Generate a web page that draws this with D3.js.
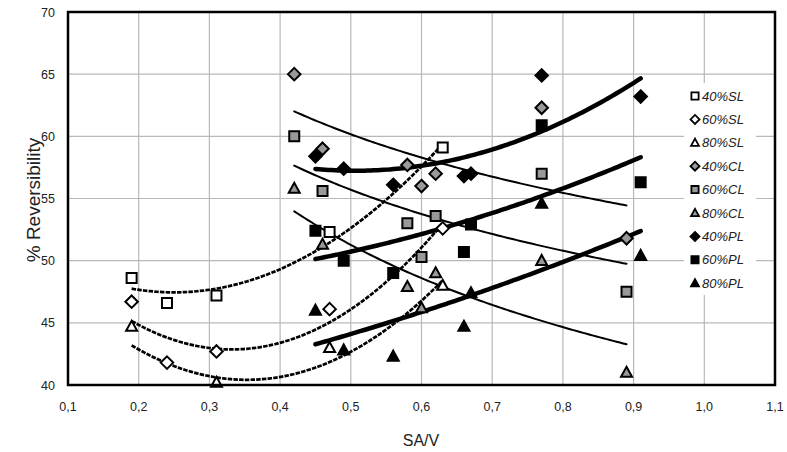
<!DOCTYPE html>
<html><head><meta charset="utf-8">
<script src="https://cdn.jsdelivr.net/npm/d3@7"></script>
<style>body{margin:0;background:#fff}svg{display:block}text{font-family:Arial,"Liberation Sans",sans-serif}</style>
</head><body>
<svg id="c" width="787" height="452"></svg>
<script>
// ---- data ----
const seriesNames = ["40%SL","60%SL","80%SL","40%CL","60%CL","80%CL","40%PL","60%PL","80%PL"];
const x40SL = [0.19,0.24,0.31,0.47,0.63];
const y40SL = [48.6,46.6,47.2,52.3,59.1];
const x60SL = [0.19,0.24,0.31,0.47,0.63];
const y60SL = [46.7,41.8,42.7,46.1,52.6];
const x80SL = [0.19,0.24,0.31,0.47,0.63];
const y80SL = [44.7,39.9,40.2,43.0,48.0];   // 0.24 point lies just below the axis minimum (not shown)
const xCL = [0.42,0.46,0.58,0.60,0.62,0.77,0.89];
const y40CL = [65.0,59.0,57.7,56.0,57.0,62.3,51.8];
const y60CL = [60.0,55.6,53.0,50.3,53.6,57.0,47.5];
const y80CL = [55.8,51.3,47.9,46.2,49.0,50.0,41.0];
const xPL = [0.45,0.49,0.56,0.66,0.67,0.77,0.91];
const y40PL = [58.4,57.4,56.1,56.8,57.0,64.9,63.2];
const y60PL = [52.4,50.0,49.0,50.7,52.9,60.9,56.3];
const y80PL = [46.0,42.8,42.3,44.7,47.4,54.6,50.4];
const xTicks = [0.1,0.2,0.3,0.4,0.5,0.6,0.7,0.8,0.9,1.0,1.1];
const yTicks = [40,45,50,55,60,65,70];

const series = [
  {name:"40%SL", xs:x40SL, ys:y40SL, shape:"square", fill:"#fff", trend:"poly2", tstyle:"dash"},
  {name:"60%SL", xs:x60SL, ys:y60SL, shape:"diamond", fill:"#fff", trend:"poly2", tstyle:"dash"},
  {name:"80%SL", xs:x80SL, ys:y80SL, shape:"triangle", fill:"#fff", trend:"poly2", tstyle:"dash"},
  {name:"40%CL", xs:xCL, ys:y40CL, shape:"diamond", fill:"#999", trend:"power", tstyle:"thin"},
  {name:"60%CL", xs:xCL, ys:y60CL, shape:"square", fill:"#999", trend:"power", tstyle:"thin"},
  {name:"80%CL", xs:xCL, ys:y80CL, shape:"triangle", fill:"#999", trend:"power", tstyle:"thin"},
  {name:"40%PL", xs:xPL, ys:y40PL, shape:"diamond", fill:"#000", trend:"poly2", tstyle:"thick"},
  {name:"60%PL", xs:xPL, ys:y60PL, shape:"square", fill:"#000", trend:"poly2", tstyle:"thick"},
  {name:"80%PL", xs:xPL, ys:y80PL, shape:"triangle", fill:"#000", trend:"poly2", tstyle:"thick"}
];

// ---- fits ----
function linfit(X,Y){const n=X.length,mx=d3.mean(X),my=d3.mean(Y);let sxy=0,sxx=0;for(let i=0;i<n;i++){sxy+=(X[i]-mx)*(Y[i]-my);sxx+=(X[i]-mx)**2;}const b=sxy/sxx;return [my-b*mx,b];}
function poly2(X,Y){let S=[0,0,0,0,0],T=[0,0,0];X.forEach((x,i)=>{for(let k=0;k<5;k++)S[k]+=x**k;for(let k=0;k<3;k++)T[k]+=Y[i]*x**k;});
  const A=[[S[0],S[1],S[2],T[0]],[S[1],S[2],S[3],T[1]],[S[2],S[3],S[4],T[2]]];
  for(let i=0;i<3;i++){for(let j=i+1;j<3;j++){const f=A[j][i]/A[i][i];for(let k=i;k<4;k++)A[j][k]-=f*A[i][k];}}
  const c=[0,0,0];for(let i=2;i>=0;i--){let s=A[i][3];for(let k=i+1;k<3;k++)s-=A[i][k]*c[k];c[i]=s/A[i][i];}
  return x=>c[0]+c[1]*x+c[2]*x*x;}
function fit(s){
  if(s.trend==="poly2") return poly2(s.xs,s.ys);
  if(s.trend==="exp"){const [a,b]=linfit(s.xs,s.ys.map(Math.log));return x=>Math.exp(a+b*x);}
  if(s.trend==="power"){const [a,b]=linfit(s.xs.map(Math.log),s.ys.map(Math.log));return x=>Math.exp(a)*x**b;}
  const [a,b]=linfit(s.xs,s.ys);return x=>a+b*x;
}

// ---- layout ----
const svg=d3.select("#c");
const L=68,R=775,T=12,B=385;
const x=d3.scaleLinear().domain([0.1,1.1]).range([L,R]);
const y=d3.scaleLinear().domain([40,70]).range([B,T]);

// gridlines
const g=svg.append("g");
g.selectAll(".vg").data(xTicks.slice(1,-1)).join("line").attr("x1",d=>x(d)).attr("x2",d=>x(d)).attr("y1",T).attr("y2",B).attr("stroke","#b8b8b8").attr("stroke-width",1.2);
g.selectAll(".hg").data(yTicks.slice(1,-1)).join("line").attr("y1",d=>y(d)).attr("y2",d=>y(d)).attr("x1",L).attr("x2",R).attr("stroke","#b8b8b8").attr("stroke-width",1.2);

// trendlines
const styles={dash:{w:2.7,dash:"4.5,1.2"},thin:{w:2,dash:null},thick:{w:4.5,dash:null}};
series.forEach(s=>{
  const f=fit(s);const [a,b]=d3.extent(s.xs);
  const pts=d3.range(0,101).map(i=>{const xv=a+(b-a)*i/100;return [x(xv),y(f(xv))];});
  const st=styles[s.tstyle];
  svg.append("path").attr("d",d3.line()(pts)).attr("fill","none").attr("stroke","#000").attr("stroke-width",st.w).attr("stroke-dasharray",st.dash).attr("stroke-linecap",st.dash?"butt":"round");
});

// markers (points outside the axis range are not drawn)
function shapePath(shape,r){
  if(shape==="square") return `M${-r},${-r}H${r}V${r}H${-r}Z`;
  if(shape==="diamond") return `M0,${-r*1.25}L${r*1.25},0L0,${r*1.25}L${-r*1.25},0Z`;
  return `M0,${-r*1.15}L${r*1.1},${r*0.85}L${-r*1.1},${r*0.85}Z`;
}
series.forEach(s=>{
  const pts=s.xs.map((xv,i)=>[xv,s.ys[i]]).filter(d=>d[1]>=40&&d[1]<=70);
  svg.append("g").selectAll("path").data(pts).join("path")
    .attr("transform",d=>`translate(${x(d[0])},${y(d[1])})`)
    .attr("d",shapePath(s.shape,5)).attr("fill",s.fill).attr("stroke","#000").attr("stroke-width",2).attr("stroke-linejoin","miter");
});

// frame
svg.append("rect").attr("x",L).attr("y",T).attr("width",R-L).attr("height",B-T).attr("fill","none").attr("stroke","#000").attr("stroke-width",2.5);

// axes labels
svg.append("g").selectAll("text").data(yTicks).join("text").attr("x",55).attr("y",d=>y(d)+4.5).attr("text-anchor","end").attr("font-size",12.5).attr("fill","#222").text(d=>d);
svg.append("g").selectAll("text").data(xTicks).join("text").attr("x",d=>x(d)).attr("y",411).attr("text-anchor","middle").attr("font-size",12.5).attr("fill","#222").text(d=>d.toFixed(1).replace(".",","));
svg.append("text").attr("x",421).attr("y",446).attr("text-anchor","middle").attr("font-size",16).attr("fill","#222").text("SA/V");
svg.append("text").attr("transform","translate(40,200) rotate(-90)").attr("text-anchor","middle").attr("font-size",19).attr("fill","#222").text("% Reversibility");

// legend
const lg=svg.append("g");
lg.append("rect").attr("x",684).attr("y",83).attr("width",72).attr("height",212).attr("fill","#fff");
series.forEach((s,i)=>{
  const yy=96+i*23.4;
  lg.append("path").attr("transform",`translate(695,${yy})`).attr("d",shapePath(s.shape,3.6)).attr("fill",s.fill).attr("stroke","#000").attr("stroke-width",1.8);
  lg.append("text").attr("x",702).attr("y",yy+4.5).attr("font-size",13).attr("font-style","italic").attr("fill","#222").text(s.name);
});
</script>
</body></html>
